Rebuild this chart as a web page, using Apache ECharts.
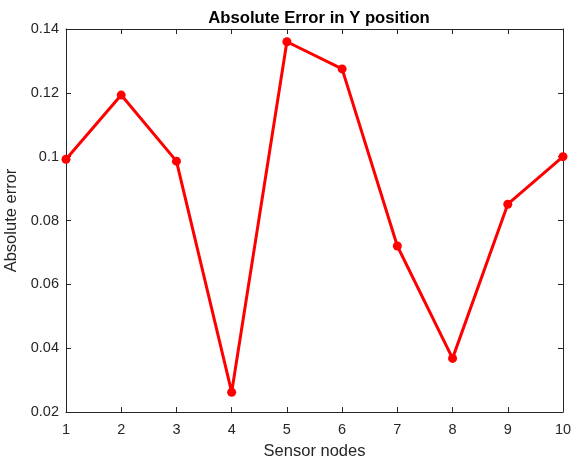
<!DOCTYPE html>
<html><head><meta charset="utf-8">
<script src="https://cdn.jsdelivr.net/npm/echarts@6/dist/echarts.min.js"></script>
<style>html,body{margin:0;padding:0;background:#fff}#c{width:571px;height:459px}</style>
</head><body><div id="c"></div>
<script>
const nodes = [1,2,3,4,5,6,7,8,9,10];
const absError = [0.0992,0.1193,0.0986,0.0262,0.1360,0.1275,0.0720,0.0368,0.0851,0.1000];
const yTicks = [0.02,0.04,0.06,0.08,0.1,0.12,0.14];

const chart = echarts.init(document.getElementById('c'));
const axisLine = {show:true, lineStyle:{color:'#262626', width:1}};
const tick = {show:true, inside:true, length:5, lineStyle:{color:'#262626'}};
const font = 'Liberation Sans, Arial, sans-serif';
chart.setOption({
  animation:false,
  title:{text:'Absolute Error in Y position', left:314, top:5, textAlign:'center',
    textStyle:{fontFamily:font, fontSize:16.7, fontWeight:'bold', color:'#000'}},
  grid:{left:66, right:8, top:29, bottom:47, containLabel:false, outerBoundsMode:'none'},
  xAxis:[{type:'value', min:1, max:10, interval:1, position:'bottom',
    name:'Sensor nodes', nameLocation:'middle', nameGap:31,
    nameTextStyle:{fontFamily:font, fontSize:16.5, color:'#262626'},
    axisLine, axisTick:tick, splitLine:{show:false},
    axisLabel:{fontFamily:font, fontSize:14.5, color:'#262626', margin:10}},
   {type:'value', min:1, max:10, interval:1, position:'top',
    axisLine, axisTick:tick, axisLabel:{show:false}, splitLine:{show:false}}],
  yAxis:[{type:'value', min:0.02, max:0.14, interval:0.02, position:'left',
    name:'Absolute error', nameLocation:'middle', nameGap:44,
    nameTextStyle:{fontFamily:font, fontSize:16.5, color:'#262626'},
    axisLine, axisTick:tick, splitLine:{show:false},
    axisLabel:{fontFamily:font, fontSize:14.5, color:'#262626', margin:7,
      formatter:v=>{const t=yTicks.find(x=>Math.abs(x-v)<1e-9); return t===undefined?'':String(t);}}},
   {type:'value', min:0.02, max:0.14, interval:0.02, position:'right',
    axisLine, axisTick:tick, axisLabel:{show:false}, splitLine:{show:false}}],
  series:[{type:'line', data:nodes.map((n,i)=>[n,absError[i]]),
    lineStyle:{color:'#ff0000', width:3}, itemStyle:{color:'#ff0000'},
    symbol:'circle', symbolSize:9, showSymbol:true}]
});
</script></body></html>
